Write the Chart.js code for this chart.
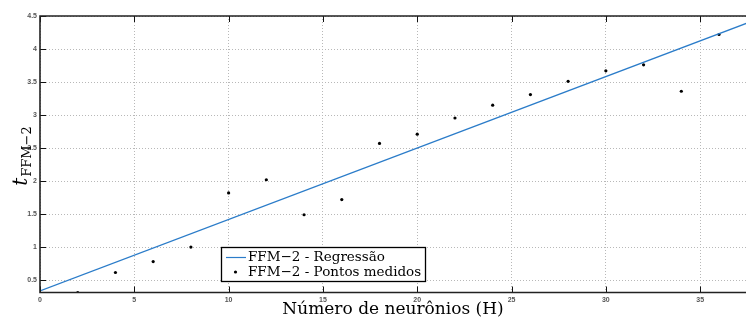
<!DOCTYPE html>
<html>
<head>
<meta charset="utf-8">
<script src="https://cdn.jsdelivr.net/npm/chart.js@4"></script>
<style>
html,body{margin:0;padding:0;background:#fff;}
#wrap{width:746px;height:322px;}
</style>
</head>
<body>
<div id="wrap"><canvas id="c" width="746" height="322"></canvas></div>
<script>
// Data
const hValues = [2, 4, 6, 8, 10, 12, 14, 16, 18, 20, 22, 24, 26, 28, 30, 32, 34, 36];
const tMeasured = [0.31, 0.615, 0.78, 1.0, 1.82, 2.02, 1.49, 1.72, 2.57, 2.71, 2.955, 3.15, 3.31, 3.51, 3.67, 3.76, 3.36, 4.22];
const regH = [0, 38];
const regT = [0.336, 4.448];
const xTicks = [0, 5, 10, 15, 20, 25, 30, 35];
const yTicks = [0.5, 1, 1.5, 2, 2.5, 3, 3.5, 4, 4.5];
const xRange = [0, 37.43];
const yRange = [0.312, 4.5];
const seriesLabels = ['FFM\u22122 - Regressão', 'FFM\u22122 - Pontos medidos'];
const xTitle = 'Número de neurônios (H)';
const yTitleMain = 't';
const yTitleSub = 'FFM\u22122';

const lineColor = '#2b7cc9';

const framePlugin = {
  id: 'frame',
  afterDatasetsDraw(chart) {
    const ctx = chart.ctx;
    const a = chart.chartArea;
    const xs = chart.scales.x, ys = chart.scales.y;
    ctx.save();
    // inner tick marks
    ctx.strokeStyle = '#111';
    ctx.lineWidth = 1;
    ctx.beginPath();
    xTicks.forEach(v => {
      const px = Math.round(xs.getPixelForValue(v)) + 0.5;
      ctx.moveTo(px, a.bottom); ctx.lineTo(px, a.bottom - 6);
      ctx.moveTo(px, a.top); ctx.lineTo(px, a.top + 6);
    });
    yTicks.forEach(v => {
      const py = Math.round(ys.getPixelForValue(v)) + 0.5;
      ctx.moveTo(a.left, py); ctx.lineTo(a.left + 6, py);
    });
    ctx.stroke();
    // box
    ctx.strokeStyle = '#222';
    ctx.lineWidth = 1.6;
    ctx.beginPath();
    ctx.moveTo(a.right + 2, a.top); ctx.lineTo(a.left, a.top); ctx.lineTo(a.left, a.bottom); ctx.lineTo(a.right + 2, a.bottom);
    ctx.stroke();

    // legend
    const lx = 221, ly = 247, lw = 204, lh = 34;
    ctx.fillStyle = '#fff';
    ctx.fillRect(lx, ly, lw, lh);
    ctx.strokeStyle = '#000';
    ctx.lineWidth = 1.3;
    ctx.strokeRect(lx + 0.5, ly + 0.5, lw, lh);
    ctx.strokeStyle = lineColor;
    ctx.lineWidth = 1.2;
    ctx.beginPath();
    ctx.moveTo(lx + 5, ly + 10.5); ctx.lineTo(lx + 25, ly + 10.5);
    ctx.stroke();
    ctx.fillStyle = '#000';
    ctx.beginPath();
    ctx.arc(lx + 14.5, ly + 25, 1.6, 0, Math.PI * 2);
    ctx.fill();
    ctx.font = '13.5px "DejaVu Serif"';
    ctx.textBaseline = 'middle';
    ctx.textAlign = 'left';
    ctx.fillText(chart.data.datasets[0].label, lx + 27, ly + 10);
    ctx.fillText(chart.data.datasets[1].label, lx + 27, ly + 25);

    // y title
    ctx.translate(21, 156);
    ctx.rotate(-Math.PI / 2);
    ctx.textBaseline = 'alphabetic';
    ctx.font = 'italic 20px "DejaVu Serif"';
    const wt = ctx.measureText(yTitleMain).width;
    ctx.font = '13px "DejaVu Serif"';
    const ws = ctx.measureText(yTitleSub).width;
    const total = wt + ws + 1;
    ctx.font = 'italic 20px "DejaVu Serif"';
    ctx.fillText(yTitleMain, -total / 2, 6);
    ctx.font = '13px "DejaVu Serif"';
    ctx.fillText(yTitleSub, -total / 2 + wt + 1, 10);
    ctx.restore();
  }
};

new Chart(document.getElementById('c'), {
  type: 'scatter',
  data: {
    datasets: [
      {
        type: 'line',
        label: seriesLabels[0],
        data: regH.map((h, i) => ({x: h, y: regT[i]})),
        borderColor: lineColor,
        borderWidth: 1.2,
        pointRadius: 0,
        fill: false,
        tension: 0
      },
      {
        label: seriesLabels[1],
        data: hValues.map((h, i) => ({x: h, y: tMeasured[i]})),
        backgroundColor: '#000',
        borderColor: '#000',
        pointRadius: 1.6,
        pointBorderWidth: 0
      }
    ]
  },
  options: {
    responsive: false,
    animation: false,
    maintainAspectRatio: false,
    layout: {autoPadding: false, padding: {top: 16, right: 0, left: 0, bottom: 0}},
    plugins: {legend: {display: false}, tooltip: {enabled: false}},
    scales: {
      x: {
        type: 'linear',
        min: xRange[0], max: xRange[1],
        afterBuildTicks: s => { s.ticks = xTicks.map(v => ({value: v})); },
        afterFit: s => { s.height = 29.5; s.paddingLeft = 0; s.paddingRight = 0; },
        grid: {color: '#b8b8b8', lineWidth: 1, drawTicks: false},
        border: {display: false, dash: [1, 2]},
        ticks: {font: {family: 'Liberation Sans', size: 7, weight: 'bold'}, color: '#555', padding: 3, maxRotation: 0, callback: v => String(v)},
        title: {display: true, text: xTitle, font: {family: 'DejaVu Serif', size: 17}, color: '#000', padding: {top: 0, bottom: 2}}
      },
      y: {
        type: 'linear',
        min: yRange[0], max: yRange[1],
        afterBuildTicks: s => { s.ticks = yTicks.map(v => ({value: v})); },
        afterFit: s => { s.width = 40; s.paddingTop = 0; s.paddingBottom = 0; },
        grid: {color: '#b8b8b8', lineWidth: 1, drawTicks: false},
        border: {display: false, dash: [1, 2]},
        ticks: {font: {family: 'Liberation Sans', size: 7, weight: 'bold'}, color: '#555', padding: 3, callback: v => String(v)}
      }
    }
  },
  plugins: [framePlugin]
});
</script>
</body>
</html>
